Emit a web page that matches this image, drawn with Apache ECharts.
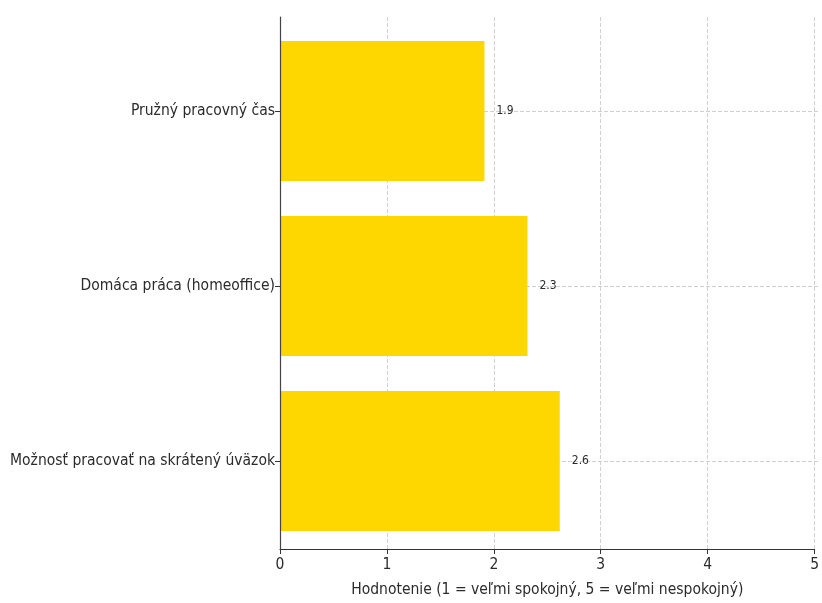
<!DOCTYPE html>
<html>
<head>
<meta charset="utf-8">
<script src="https://cdn.jsdelivr.net/npm/echarts@6/dist/echarts.min.js"></script>
<style>
  html, body { margin: 0; padding: 0; background: #fff; }
  #chart { width: 822px; height: 603px; }
</style>
</head>
<body>
<div id="chart"></div>
<script>
// data
var categories = ['Pružný pracovný čas', 'Domáca práca (homeoffice)', 'Možnosť pracovať na skrátený úväzok'];
var values = [1.9, 2.3, 2.6];
var xTicks = [0, 1, 2, 3, 4, 5];

var fontFam = '"DejaVu Sans Condensed", "DejaVu Sans", sans-serif';
var textColor = '#2b2b2b';

var chart = echarts.init(document.getElementById('chart'));
var option = {
    animation: false,
    grid: [
        // outer frame: spines, x ticks and vertical grid
        { left: 280, right: 4, top: 17, bottom: 48 },
        // inner band area for the category bars (matplotlib-like margins)
        { left: 280, right: 4, top: 23.5, bottom: 54.5 }
    ],
    xAxis: [{
        gridIndex: 0,
        type: 'value',
        min: xTicks[0],
        max: xTicks[xTicks.length - 1],
        interval: 1,
        name: 'Hodnotenie (1 = veľmi spokojný, 5 = veľmi nespokojný)',
        nameLocation: 'middle',
        nameGap: 33,
        nameTextStyle: { fontFamily: fontFam, fontSize: 15.5, color: textColor },
        axisLine: { show: true, lineStyle: { color: '#333', width: 1.2 } },
        axisTick: { show: true, length: 5, lineStyle: { color: '#333' } },
        axisLabel: { fontFamily: fontFam, fontSize: 15.5, color: textColor, margin: 8 },
        splitLine: { show: true, lineStyle: { color: '#d0d0d0', type: 'dashed', width: 1 } }
    }, {
        gridIndex: 1,
        type: 'value',
        min: xTicks[0],
        max: xTicks[xTicks.length - 1],
        show: false
    }],
    yAxis: [{
        gridIndex: 0,
        type: 'value',
        z: 5,
        axisLine: { show: true, lineStyle: { color: '#444', width: 1.2 } },
        axisTick: { show: false },
        axisLabel: { show: false },
        splitLine: { show: false }
    }, {
        gridIndex: 1,
        type: 'category',
        inverse: true,
        data: categories,
        axisLine: { show: false },
        axisTick: { show: true, alignWithLabel: true, length: 5, lineStyle: { color: '#333' } },
        axisLabel: { fontFamily: fontFam, fontSize: 15.5, color: textColor, margin: 5 },
        splitLine: { show: false }
    }],
    series: [{
        type: 'bar',
        xAxisIndex: 1,
        yAxisIndex: 1,
        data: values,
        barWidth: 140,
        itemStyle: { color: '#FFD700' },
        label: {
            show: true,
            position: 'right',
            distance: 12,
            fontFamily: fontFam,
            fontSize: 12,
            color: textColor,
            formatter: function (p) { return p.value.toFixed(1); }
        },
        markLine: {
            silent: true,
            symbol: 'none',
            z: 1,
            label: { show: false },
            lineStyle: { color: '#d0d0d0', type: 'dashed', width: 1 },
            data: categories.map(function (c) { return { yAxis: c }; })
        }
    }]
};
chart.setOption(option);
</script>
</body>
</html>
